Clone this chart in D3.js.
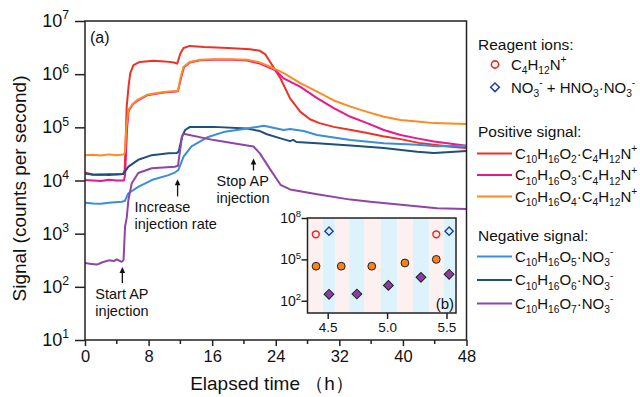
<!DOCTYPE html>
<html>
<head>
<meta charset="utf-8">
<script src="https://cdn.jsdelivr.net/npm/d3@7"></script>
<style>
  body { margin: 0; background: #fff; }
  svg { display: block; }
  text { font-family: "Liberation Sans", Arial, Helvetica, sans-serif; fill: #111; }
</style>
</head>
<body>
<svg id="chart" width="640" height="397"></svg>
<script>
// ---- main panel (a): elapsed time (h) vs signal (counts per second) ----
const seriesO2C4 = [[0,1.40e4],[1,1.30e4],[2,1.28e4],[3,1.33e4],[4,1.30e4],[4.8,1.32e4],[5.0,1.6e4],[5.25,2.5e5],[5.5,6.3e5],[5.7,1.05e6],[6.1,1.48e6],[6.9,1.70e6],[8.6,1.78e6],[10,1.74e6],[11.2,1.66e6],[11.6,1.58e6],[12.0,2.45e6],[12.4,3.1e6],[13.2,3.4e6],[15,3.25e6],[18,3.1e6],[20.8,2.95e6],[22,2.75e6],[22.7,2.35e6],[23.3,1.7e6],[24.6,8.3e5],[25.8,3.5e5],[27.1,1.95e5],[28.3,1.42e5],[29.5,1.2e5],[31.3,1.02e5],[33.5,8.9e4],[35.5,7.8e4],[37.5,6.8e4],[39.7,6.0e4],[42,5.1e4],[43.9,4.7e4],[46,4.3e4],[48,4.1e4]];
const seriesO3C4 = [[0,1.02e4],[1,1.0e4],[2,9.8e3],[3,1.03e4],[4,1.0e4],[4.9,1.0e4],[5.05,1.3e4],[5.3,1.0e5],[5.5,2.05e5],[6.0,2.7e5],[6.5,3.1e5],[7.8,4.0e5],[9.9,4.5e5],[11.5,4.7e5],[11.7,4.8e5],[12.05,8.1e5],[12.45,1.35e6],[13.2,1.66e6],[14.5,1.82e6],[16.2,1.86e6],[18.5,1.86e6],[20.4,1.8e6],[22,1.58e6],[23.9,1.2e6],[25,8.3e5],[27.1,5.75e5],[29.2,3.55e5],[31.3,2.3e5],[33.4,1.58e5],[35.5,1.2e5],[37.6,8.9e4],[39.7,7.2e4],[41.8,6.2e4],[43.9,5.4e4],[48,4.5e4]];
const seriesO4C4 = [[0,3.0e4],[1,3.05e4],[2,2.95e4],[3,3.1e4],[4,3.0e4],[4.9,3.1e4],[5.05,3.5e4],[5.2,1.0e5],[5.46,2.1e5],[6.0,2.75e5],[6.5,3.2e5],[7.8,4.1e5],[9.9,4.6e5],[11.5,4.8e5],[11.7,4.9e5],[12.0,8.3e5],[12.4,1.38e6],[13.2,1.7e6],[14.5,1.86e6],[16.2,1.9e6],[18.5,1.9e6],[20.4,1.86e6],[21.8,1.7e6],[23.3,1.38e6],[25,1.05e6],[27.1,6.8e5],[29.2,4.7e5],[31.3,3.2e5],[33.4,2.45e5],[35.5,1.95e5],[37.6,1.58e5],[39.7,1.38e5],[41.8,1.29e5],[43.9,1.2e5],[48,1.15e5]];
const seriesO5NO3 = [[0,3.8e3],[1,3.7e3],[2,3.65e3],[3,3.8e3],[4.6,4.0e3],[5.0,4.1e3],[5.46,5.75e3],[6.7,7.6e3],[8.4,1.02e4],[10.5,1.26e4],[11.3,1.41e4],[11.75,1.58e4],[12.4,2.8e4],[13.4,4.4e4],[15.5,6.6e4],[17.6,8.3e4],[20.4,9.5e4],[22.5,1.07e5],[25,8.9e4],[25.8,9.3e4],[27.5,8.5e4],[29.2,7.2e4],[33.4,5.75e4],[37.6,5.0e4],[41.8,4.7e4],[44.3,4.4e4],[48,4.5e4]];
const seriesO6NO3 = [[0,1.35e4],[1,1.28e4],[2,1.30e4],[3,1.27e4],[4,1.31e4],[4.8,1.32e4],[5.46,1.82e4],[6.7,2.45e4],[8.4,3.0e4],[10.5,3.24e4],[11.55,3.3e4],[11.8,3.5e4],[12.2,6.6e4],[12.6,8.9e4],[13.2,1.02e5],[16.2,1.02e5],[20.4,9.5e4],[22,8.5e4],[22.9,7.4e4],[24.6,6.2e4],[25.8,5.5e4],[26.2,5.8e4],[26.6,5.3e4],[29.2,5.0e4],[33.4,4.57e4],[37.6,4.07e4],[41.8,3.47e4],[43.9,3.3e4],[46,3.45e4],[48,3.6e4]];
const seriesO7NO3 = [[0,280],[0.8,270],[1.5,262],[2.2,290],[3,315],[3.6,305],[4.0,330],[4.6,295],[4.85,320],[5.04,1.35e3],[5.25,2.0e3],[5.46,4.3e3],[5.88,8.9e3],[6.7,1.38e4],[8.4,1.7e4],[11.3,1.82e4],[11.7,1.9e4],[12.2,6.6e4],[12.4,7.6e4],[16.2,5.75e4],[20.4,4.57e4],[21.2,4.37e4],[22,3.24e4],[23.3,1.62e4],[24.6,8.3e3],[25.8,6.8e3],[29.2,5.5e3],[33.4,4.37e3],[35.9,4.0e3],[40.1,3.47e3],[44.3,3.0e3],[48,2.9e3]];

const xTicksMajor = [0, 8, 16, 24, 32, 40, 48];
const xTicksMinor = [4, 12, 20, 28, 36, 44];
const yTickExponents = [1, 2, 3, 4, 5, 6, 7];

// annotation arrows: time of event, signal at arrow tip, label lines
const eventTimes = [4.7, 11.65, 21.2];
const eventTipValues = [235, 1.05e4, 2.6e4];
const eventLabels = [["Start AP", "injection"], ["Increase", "injection rate"], ["Stop AP", "injection"]];

// ---- inset (b): one-hour zoom, alternating positive / negative polarity windows ----
const windowEdges = [4.329, 4.458, 4.561, 4.681, 4.807, 4.947, 5.087, 5.217, 5.352, 5.475, 5.575];
const reagentPosT = [4.40, 5.414];
const reagentPosV = [6.6e6, 6.6e6];
const reagentNegT = [4.511, 5.522];
const reagentNegV = [1.1e7, 1.1e7];
const insetPosT = [4.402, 4.614, 4.871, 5.15, 5.414];
const insetPosV = [3.2e4, 3.2e4, 3.2e4, 5.5e4, 1.0e5];
const insetNegT = [4.511, 4.746, 5.011, 5.285, 5.522];
const insetNegV = [295, 310, 1.3e3, 5.0e3, 8.3e3];
const insetXTicks = [4.5, 5.0, 5.5];
const insetYExponents = [2, 5, 8];

// ---- legend ----
const C = { red: "#ee3124", pink: "#ec178c", orange: "#ff8a1f", lblue: "#3a8ed8", dblue: "#1f4f7d", purple: "#8e44a8" };
const lineSeries = [
  { data: seriesO2C4, color: C.red },
  { data: seriesO3C4, color: C.pink },
  { data: seriesO4C4, color: C.orange },
  { data: seriesO6NO3, color: C.dblue },
  { data: seriesO5NO3, color: C.lblue },
  { data: seriesO7NO3, color: C.purple }
];

const svg = d3.select("#chart");
const M = { left: 85, right: 466.5, top: 21, bottom: 340 };

const x = d3.scaleLinear().domain([0, 48]).range([M.left, M.right]);
const y = d3.scaleLog().domain([10, 1e7]).range([M.bottom, M.top]);

// writes text made of normal / subscript / superscript runs
function rich(sel, parts, size) {
  let shift = 0;
  parts.forEach(([s, kind]) => {
    const target = kind === "sub" ? 0.32 * size : kind === "sup" ? -0.42 * size : 0;
    sel.append("tspan")
      .attr("dy", target - shift)
      .attr("font-size", kind ? size * 0.68 : size)
      .text(s);
    shift = target;
  });
}

// data lines
const clip = svg.append("clipPath").attr("id", "plotClip").append("rect")
  .attr("x", M.left).attr("y", M.top).attr("width", M.right - M.left).attr("height", M.bottom - M.top);
const line = d3.line().x(d => x(d[0])).y(d => y(d[1]));
const lines = svg.append("g").attr("clip-path", "url(#plotClip)");
lineSeries.forEach(s => {
  lines.append("path").datum(s.data)
    .attr("d", line).attr("fill", "none")
    .attr("stroke", s.color).attr("stroke-width", 2).attr("stroke-linejoin", "round");
});

// frame
svg.append("rect")
  .attr("x", M.left).attr("y", M.top).attr("width", M.right - M.left).attr("height", M.bottom - M.top)
  .attr("fill", "none").attr("stroke", "#222").attr("stroke-width", 1.5);

// x axis
const xAxis = svg.append("g").attr("transform", `translate(0,${M.bottom})`)
  .call(d3.axisBottom(x).tickValues(xTicksMajor).tickSize(6).tickSizeOuter(0).tickPadding(4));
xAxis.select(".domain").remove();
xAxis.selectAll(".tick line").attr("stroke", "#222").attr("stroke-width", 1.5);
xAxis.selectAll(".tick text").attr("font-size", 16.5).attr("fill", "#111")
  .attr("font-family", '"Liberation Sans", Arial, sans-serif');
svg.append("g").selectAll("line").data(xTicksMinor).join("line")
  .attr("x1", d => x(d)).attr("x2", d => x(d))
  .attr("y1", M.bottom).attr("y2", M.bottom + 4)
  .attr("stroke", "#222").attr("stroke-width", 1.5);

// y axis
const yAxis = svg.append("g").attr("transform", `translate(${M.left},0)`)
  .call(d3.axisLeft(y).tickValues(yTickExponents.map(e => Math.pow(10, e))).tickSize(10).tickSizeOuter(0).tickFormat(""));
yAxis.select(".domain").remove();
yAxis.selectAll(".tick line").attr("stroke", "#222").attr("stroke-width", 1.5);
yTickExponents.forEach(e => {
  const t = svg.append("text").attr("x", 69).attr("y", y(Math.pow(10, e)) + 6)
    .attr("text-anchor", "end");
  rich(t, [["10", ""], [String(e), "sup"]], 18);
});

// axis titles
svg.append("text").attr("transform", `translate(26,${(M.top + M.bottom) / 2 + 8}) rotate(-90)`)
  .attr("text-anchor", "middle").attr("font-size", 19).text("Signal (counts per second)");
svg.append("text").attr("x", 272).attr("y", 390).attr("text-anchor", "middle").attr("font-size", 19)
  .text("Elapsed time （h）");

svg.append("text").attr("x", 90).attr("y", 43).attr("font-size", 16).text("(a)");

// event annotations
const labelOffsets = [{ dx: -27, len: 16 }, { dx: -43, len: 17 }, { dx: -37, len: 12 }];
eventTimes.forEach((t, i) => {
  const ax = x(t), tip = y(eventTipValues[i]), tail = tip + labelOffsets[i].len;
  svg.append("line").attr("x1", ax).attr("x2", ax).attr("y1", tip + 3).attr("y2", tail)
    .attr("stroke", "#111").attr("stroke-width", 1.3);
  svg.append("path").attr("d", `M${ax},${tip} L${ax - 2.8},${tip + 6} L${ax + 2.8},${tip + 6} Z`).attr("fill", "#111");
  eventLabels[i].forEach((s, k) => {
    svg.append("text").attr("x", ax + labelOffsets[i].dx).attr("y", tail + 16 + k * 17)
      .attr("font-size", 14.5).text(s);
  });
});

// ---- inset ----
const IX = { left: 307.5, right: 456, top: 218, bottom: 313 };
const xi = d3.scaleLinear().domain([4.33, 5.58]).range([IX.left, IX.right]);
const yi = d3.scaleLog().domain([13, 1e8]).range([IX.bottom, IX.top]);
const inset = svg.append("g");
inset.append("rect").attr("x", IX.left).attr("y", IX.top).attr("width", IX.right - IX.left).attr("height", IX.bottom - IX.top)
  .attr("fill", "#fff");
const windows = d3.pairs(windowEdges);
inset.selectAll("rect.win").data(windows).join("rect").attr("class", "win")
  .attr("x", d => xi(d[0])).attr("width", d => xi(d[1]) - xi(d[0]))
  .attr("y", IX.top).attr("height", IX.bottom - IX.top)
  .attr("fill", (d, i) => i % 2 === 0 ? "#fdf0f0" : "#ddf3fb");

// points
inset.selectAll("circle.pos").data(insetPosT).join("circle").attr("class", "pos")
  .attr("cx", d => xi(d)).attr("cy", (d, i) => yi(insetPosV[i])).attr("r", 3.9)
  .attr("fill", "#f7821e").attr("stroke", "#222").attr("stroke-width", 1);
inset.selectAll("path.neg").data(insetNegT).join("path").attr("class", "neg")
  .attr("d", d3.symbol(d3.symbolSquare, 48))
  .attr("transform", (d, i) => `translate(${xi(d)},${yi(insetNegV[i])}) rotate(45)`)
  .attr("fill", "#8e3c9f").attr("stroke", "#222").attr("stroke-width", 1);
inset.selectAll("circle.rpos").data(reagentPosT).join("circle").attr("class", "rpos")
  .attr("cx", d => xi(d)).attr("cy", (d, i) => yi(reagentPosV[i])).attr("r", 3.4)
  .attr("fill", "none").attr("stroke", "#ee2a24").attr("stroke-width", 1.5);
inset.selectAll("path.rneg").data(reagentNegT).join("path").attr("class", "rneg")
  .attr("d", d3.symbol(d3.symbolSquare, 34))
  .attr("transform", (d, i) => `translate(${xi(d)},${yi(reagentNegV[i])}) rotate(45)`)
  .attr("fill", "none").attr("stroke", "#1c3fa8").attr("stroke-width", 1.4);

inset.append("rect").attr("x", IX.left).attr("y", IX.top).attr("width", IX.right - IX.left).attr("height", IX.bottom - IX.top)
  .attr("fill", "none").attr("stroke", "#222").attr("stroke-width", 1.5);

const ixAxis = inset.append("g").attr("transform", `translate(0,${IX.bottom})`)
  .call(d3.axisBottom(xi).tickValues(insetXTicks).tickSize(6).tickPadding(3).tickFormat(d3.format(".1f")));
ixAxis.select(".domain").remove();
ixAxis.selectAll(".tick line").attr("stroke", "#222").attr("stroke-width", 1.5);
ixAxis.selectAll(".tick text").attr("font-size", 13.5).attr("fill", "#111")
  .attr("font-family", '"Liberation Sans", Arial, sans-serif');
const iyAxis = inset.append("g").attr("transform", `translate(${IX.left},0)`)
  .call(d3.axisLeft(yi).tickValues(insetYExponents.map(e => Math.pow(10, e))).tickSize(6).tickFormat(""));
iyAxis.select(".domain").remove();
iyAxis.selectAll(".tick line").attr("stroke", "#222").attr("stroke-width", 1.5);
insetYExponents.forEach(e => {
  const t = inset.append("text").attr("x", 301).attr("y", yi(Math.pow(10, e)) + 5).attr("text-anchor", "end");
  rich(t, [["10", ""], [String(e), "sup"]], 14);
});
inset.append("text").attr("x", 454).attr("y", 309).attr("text-anchor", "end").attr("font-size", 15).text("(b)");

// ---- legend ----
const L = svg.append("g");
const LS = 15;
L.append("text").attr("x", 478).attr("y", 50).attr("font-size", LS + 0.5).text("Reagent ions:");
L.append("circle").attr("cx", 495).attr("cy", 64.5).attr("r", 3.6)
  .attr("fill", "none").attr("stroke", "#ee2a24").attr("stroke-width", 1.6);
rich(L.append("text").attr("x", 511).attr("y", 69.5),
  [["C", ""], ["4", "sub"], ["H", ""], ["12", "sub"], ["N", ""], ["+", "sup"]], LS);
L.append("path").attr("d", d3.symbol(d3.symbolSquare, 38))
  .attr("transform", "translate(495,87.3) rotate(45)")
  .attr("fill", "none").attr("stroke", "#1c3fa8").attr("stroke-width", 1.5);
rich(L.append("text").attr("x", 511).attr("y", 92.5),
  [["NO", ""], ["3", "sub"], ["-", "sup"], [" + HNO", ""], ["3", "sub"], ["·NO", ""], ["3", "sub"], ["-", "sup"]], LS);

L.append("text").attr("x", 478).attr("y", 137).attr("font-size", LS + 0.5).text("Positive signal:");
const posLegend = [
  { color: C.red, parts: [["C",""],["10","sub"],["H",""],["16","sub"],["O",""],["2","sub"],["·C",""],["4","sub"],["H",""],["12","sub"],["N",""],["+","sup"]] },
  { color: C.pink, parts: [["C",""],["10","sub"],["H",""],["16","sub"],["O",""],["3","sub"],["·C",""],["4","sub"],["H",""],["12","sub"],["N",""],["+","sup"]] },
  { color: C.orange, parts: [["C",""],["10","sub"],["H",""],["16","sub"],["O",""],["4","sub"],["·C",""],["4","sub"],["H",""],["12","sub"],["N",""],["+","sup"]] }
];
const negLegend = [
  { color: C.lblue, parts: [["C",""],["10","sub"],["H",""],["16","sub"],["O",""],["5","sub"],["·NO",""],["3","sub"],["-","sup"]] },
  { color: C.dblue, parts: [["C",""],["10","sub"],["H",""],["16","sub"],["O",""],["6","sub"],["·NO",""],["3","sub"],["-","sup"]] },
  { color: C.purple, parts: [["C",""],["10","sub"],["H",""],["16","sub"],["O",""],["7","sub"],["·NO",""],["3","sub"],["-","sup"]] }
];
function legendRows(rows, y0, step) {
  rows.forEach((r, i) => {
    const yy = y0 + i * step;
    L.append("line").attr("x1", 477).attr("x2", 512).attr("y1", yy).attr("y2", yy)
      .attr("stroke", r.color).attr("stroke-width", 2);
    rich(L.append("text").attr("x", 515).attr("y", yy + 5), r.parts, LS);
  });
}
legendRows(posLegend, 153.5, 21.5);
L.append("text").attr("x", 478).attr("y", 241).attr("font-size", LS + 0.5).text("Negative signal:");
legendRows(negLegend, 256.5, 23.5);
</script>
</body>
</html>
